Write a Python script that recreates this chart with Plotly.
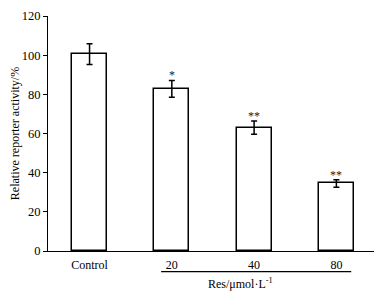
import plotly.graph_objects as go

categories = ["Control", "20", "40", "80"]
activity = [100.5, 82.8, 63.0, 34.5]
errors = [5.3, 4.3, 3.4, 1.9]
significance = ["", "*", "**", "**"]
y_ticks = [0, 20, 40, 60, 80, 100, 120]

font_family = "Liberation Serif, Times New Roman, serif"

fig = go.Figure()
fig.add_trace(go.Bar(
    x=categories, y=activity, width=0.425,
    marker=dict(color="white", line=dict(color="black", width=1.5)),
    error_y=dict(type="data", array=errors, visible=True, color="black", thickness=1.5, width=3),
    showlegend=False,
))

for i, (v, e, s) in enumerate(zip(activity, errors, significance)):
    if s:
        fig.add_annotation(x=i, y=v + e, text=s, showarrow=False, yanchor="bottom",
                           yshift=-4, font=dict(size=12, color="#222", family=font_family))

# bracket line under concentration groups
fig.add_shape(type="line", xref="x", yref="paper", x0=1 - 0.13, x1=3 + 0.18,
              y0=-0.088, y1=-0.088, line=dict(color="black", width=1.2))
fig.add_annotation(xref="x", yref="paper", x=1.83, y=-0.138, yanchor="middle",
                   text="Res/μmol·L<sup>-1</sup>",
                   showarrow=False, font=dict(size=12, color="black", family=font_family))

fig.update_layout(
    width=374, height=287,
    margin=dict(l=40, r=2, t=8, b=44),
    paper_bgcolor="white", plot_bgcolor="white",
    font=dict(family=font_family, size=12, color="black"),
    bargap=0,
)
fig.update_xaxes(type="category", range=[-0.505, 3.53], showline=True, linecolor="black", linewidth=1.2,
                 ticks="", showgrid=False, zeroline=False, tickfont=dict(size=12), ticklabelstandoff=2)
fig.update_yaxes(range=[0, 120], tickvals=y_ticks, showline=True, linecolor="black", linewidth=1.2,
                 ticks="outside", ticklen=4, tickcolor="black", tickwidth=1.2,
                 showgrid=False, zeroline=False, tickfont=dict(size=12.5),
                 title=dict(text="Relative reporter activity/%", font=dict(size=12), standoff=1))

fig.write_html("out.html")
